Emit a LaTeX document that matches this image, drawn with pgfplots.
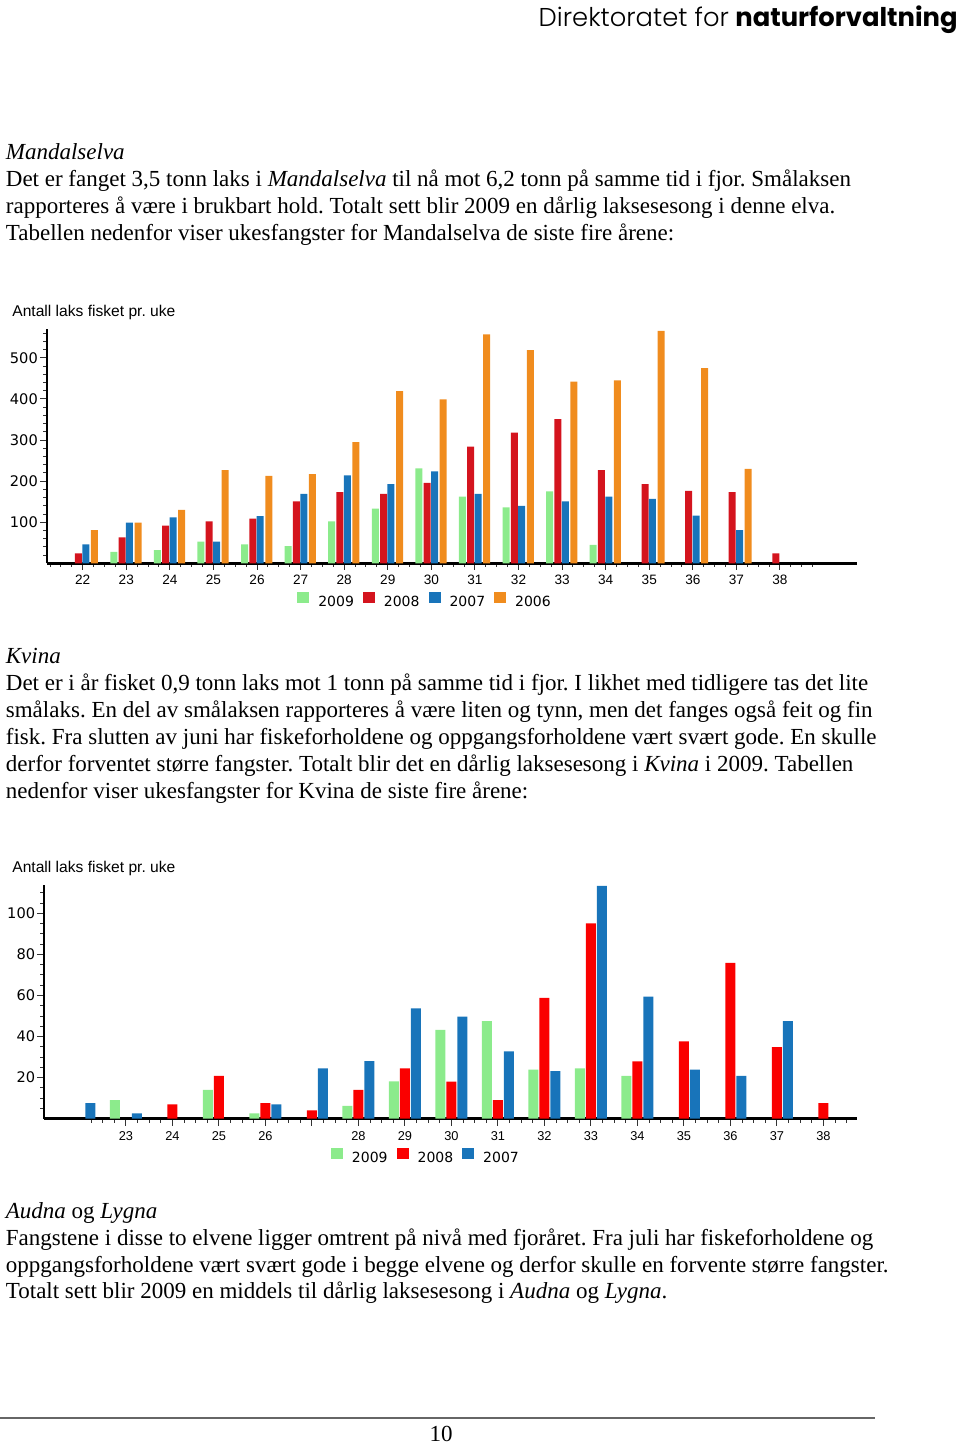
\documentclass[border=0pt]{standalone}
\usepackage{fontspec}
\usepackage{pgfplots}
\pgfplotsset{compat=1.18}
\setmainfont{Liberation Serif}
\newfontfamily\arial{Liberation Sans}
\newfontfamily\dejavu{DejaVu Sans}
\newfontfamily\hdr{Poppins}
\newfontfamily\hdrlight{Poppins Light}
\definecolor{cA}{RGB}{140,235,140}
\definecolor{cB}{RGB}{212,20,30}
\definecolor{cBB}{RGB}{250,0,0}
\definecolor{cC}{RGB}{24,116,186}
\definecolor{cD}{RGB}{240,140,30}
\pgfplotsset{
  ybar legend/.style={
    /pgfplots/legend image code/.code={%
      \path (-4.5pt,0pt) (10.5pt,0pt);
      \fill[##1,/tikz/.cd,draw=none] (0pt,-0.2pt) rectangle (6pt,5.3pt);}},
  lakschart/.style={
    ybar, scale only axis, axis x line*=bottom, axis y line*=left,
    /pgf/number format/assume math mode=true,
    x axis line style={line width=1.5pt,-}, y axis line style={line width=1pt,-},
    tick align=inside, major tick length=-3.5pt, minor tick length=-2pt,
    tick style={black!80, line width=0.5pt},
    xticklabel style={font=\arial\fontsize{6.8}{7}\selectfont, inner sep=0pt, anchor=north, yshift=-5.85pt},
    yticklabel style={font=\dejavu\fontsize{7.3}{8}\selectfont, inner sep=0pt, anchor=east, xshift=-4.4pt},
    legend style={draw=none, fill=none, inner sep=0pt, outer sep=0pt,
      font=\dejavu\fontsize{7}{8}\selectfont, legend columns=-1, nodes={inner sep=0pt}},
  }
}
\begin{document}
\frenchspacing
\begin{tikzpicture}
\useasboundingbox (0pt,0pt) rectangle (480pt,-722pt);
\begin{scope}[x=0.5pt,y=-0.5pt]
\node[anchor=base east, inner sep=0pt, font=\fontsize{12.9}{15}\selectfont] at (958,27) {{\hdrlight Direktoratet for} {\hdr\bfseries naturforvaltning}};
\begin{scope}[every node/.style={anchor=base west, inner sep=0pt, font=\fontsize{11.5}{13.5}\selectfont}]
\node at (5.5,160) {\textit{Mandalselva}};
\node at (5.5,187) {Det er fanget 3,5 tonn laks i \textit{Mandalselva} til nå mot 6,2 tonn på samme tid i fjor. Smålaksen};
\node at (5.5,214) {rapporteres å være i brukbart hold. Totalt sett blir 2009 en dårlig laksesesong i denne elva.};
\node at (5.5,241) {Tabellen nedenfor viser ukesfangster for Mandalselva de siste fire årene:};
\node at (5.5,663) {\textit{Kvina}};
\node at (5.5,690) {Det er i år fisket 0,9 tonn laks mot 1 tonn på samme tid i fjor. I likhet med tidligere tas det lite};
\node at (5.5,717) {smålaks. En del av smålaksen rapporteres å være liten og tynn, men det fanges også feit og fin};
\node at (5.5,744) {fisk. Fra slutten av juni har fiskeforholdene og oppgangsforholdene vært svært gode. En skulle};
\node at (5.5,771.5) {derfor forventet større fangster. Totalt blir det en dårlig laksesesong i \textit{Kvina} i 2009. Tabellen};
\node at (5.5,798.5) {nedenfor viser ukesfangster for Kvina de siste fire årene:};
\node at (5.5,1218) {\textit{Audna} og \textit{Lygna}};
\node at (5.5,1245) {Fangstene i disse to elvene ligger omtrent på nivå med fjoråret. Fra juli har fiskeforholdene og};
\node at (5.5,1272) {oppgangsforholdene vært svært gode i begge elvene og derfor skulle en forvente større fangster.};
\node at (5.5,1298.5) {Totalt sett blir 2009 en middels til dårlig laksesesong i \textit{Audna} og \textit{Lygna}.};
\node[anchor=base west, font=\arial\fontsize{7.8}{9}\selectfont] at (12,317) {Antall laks fisket pr. uke};
\node[anchor=base west, font=\arial\fontsize{7.8}{9}\selectfont] at (12,872) {Antall laks fisket pr. uke};
\end{scope}
\draw[black!60, line width=0.8pt] (0,1418) -- (875,1418);
\node[anchor=base, inner sep=0pt, font=\fontsize{11.5}{13.5}\selectfont] at (441,1441) {10};
\end{scope}

% Chart 1: Mandalselva
\begin{axis}[lakschart,
  at={(23.5pt,-281.65pt)}, anchor=south west,
  width=405pt, height=117pt,
  xmin=21.181, xmax=39.767, ymin=0, ymax=569.6,
  bar width=3.5pt,
  xtick={22,...,38}, minor xtick={21.25,21.5,...,38.75},
  ytick={100,200,300,400,500}, minor ytick={20,40,...,560},
  legend style={at={(0.2979,-0.1611)}, anchor=west},
]
\addplot[fill=cA, draw=none, bar shift=-6.25pt] coordinates {(23,28) (24,32) (25,53) (26,46) (27,42) (28,102) (29,133) (30,231) (31,162) (32,136) (33,175) (34,45)};
\addplot[fill=cB, draw=none, bar shift=-2.1pt] coordinates {(22,24) (23,63) (24,92) (25,102) (26,109) (27,151) (28,173) (29,169) (30,196) (31,284) (32,318) (33,351) (34,227) (35,193) (36,176) (37,173) (38,24)};
\addplot[fill=cC, draw=none, bar shift=1.6pt] coordinates {(22,46) (23,99) (24,112) (25,53) (26,115) (27,169) (28,214) (29,193) (30,224) (31,169) (32,140) (33,151) (34,162) (35,157) (36,116) (37,81)};
\addplot[fill=cD, draw=none, bar shift=5.9pt] coordinates {(22,81) (23,99) (24,130) (25,227) (26,213) (27,217) (28,295) (29,419) (30,399) (31,557) (32,519) (33,442) (34,445) (35,566) (36,475) (37,230)};
\legend{2009,2008,2007,2006}
\end{axis}

% Chart 2: Kvina
\begin{axis}[lakschart,
  at={(22.15pt,-559.35pt)}, anchor=south west,
  width=406.2pt, height=116.85pt,
  xmin=21.243, xmax=38.717, ymin=0, ymax=113.8,
  bar width=5pt,
  xtick={23,...,38}, xticklabels={23,24,25,26,,28,29,30,31,32,33,34,35,36,37,38},
  minor xtick={22.25,22.5,...,38.75},
  ytick={20,40,60,80,100}, minor ytick={5,10,...,110},
  xticklabel style={font=\arial\fontsize{6.4}{7}\selectfont, yshift=-0.3pt},
  legend style={at={(0.3418,-0.1639)}, anchor=west},
]
\addplot[fill=cA, draw=none, bar shift=-5.5pt] coordinates {(23,9.1) (25,14) (26,2.6) (28,6.2) (29,18.2) (30,43.3) (31,47.5) (32,23.9) (33,24.5) (34,20.8)};
\addplot[fill=cBB, draw=none, bar shift=0pt] coordinates {(24,7) (25,20.8) (26,7.6) (27,4.1) (28,14) (29,24.5) (30,18) (31,9.1) (32,58.9) (33,95.1) (34,27.9) (35,37.6) (36,75.9) (37,34.9) (38,7.6)};
\addplot[fill=cC, draw=none, bar shift=5.5pt] coordinates {(22,7.6) (23,2.6) (26,7) (27,24.5) (28,28.1) (29,53.7) (30,49.7) (31,32.8) (32,23.2) (33,113.4) (34,59.4) (35,23.9) (36,20.8) (37,47.5)};
\legend{2009,2008,2007}
\end{axis}
\end{tikzpicture}
\end{document}
